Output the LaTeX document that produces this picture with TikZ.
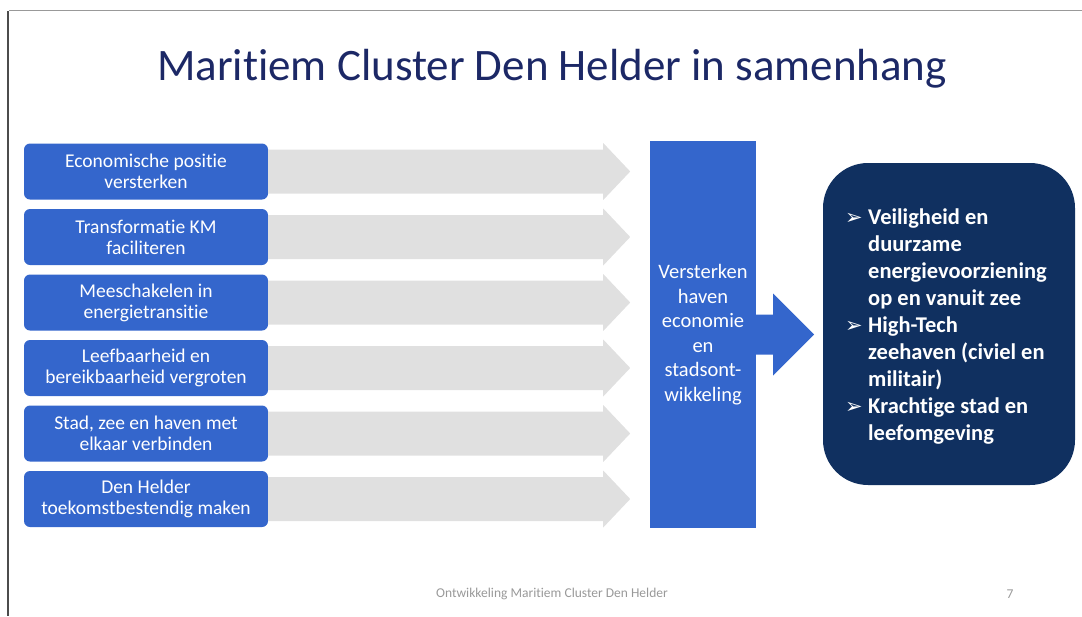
\documentclass[tikz,border=0pt]{standalone}
\usepackage{fontspec}
\setmainfont{Carlito}[Ligatures=NoCommon]
\newfontfamily\symfont{DejaVu Sans}
\definecolor{slideblue}{RGB}{52,102,204}
\definecolor{slidenavy}{RGB}{16,48,96}
\definecolor{titlenavy}{RGB}{28,40,102}
\definecolor{flowgray}{RGB}{224,224,224}
\newcommand{\resbullet}{\makebox[23pt][l]{\symfont\fontsize{21}{27}\selectfont ➢}}

\begin{document}
\begin{tikzpicture}[x=1pt, y=-1pt,
    goal/.style = {fill=slideblue, rounded corners=6pt, minimum width=244pt, minimum height=56pt,
                   text=white, align=center, inner sep=0pt, font=\fontsize{19.5}{21}\selectfont},
    hubbox/.style = {fill=slideblue, minimum width=106pt, minimum height=387pt,
                   text=white, align=center, font=\fontsize{20.5}{24.5}\selectfont},
    result/.style = {fill=slidenavy, rounded corners=45pt, minimum width=252pt, minimum height=322pt},
    flow/.style = {fill=flowgray}]
  \useasboundingbox (0,0) rectangle (1082,616);
  % slide frame
  \draw[gray!80, line width=1.5pt] (9,10.5) -- (1082,10.5);
  \draw[black!70, line width=2pt] (7.5,11) -- (7.5,616);

  \node[text=titlenavy, font=\fontsize{45}{50}\selectfont] (title) at (552,69) {Maritiem Cluster Den Helder in samenhang};

  \foreach \i/\txt in {1/{Economische positie\\versterken}, 2/{Transformatie KM\\faciliteren},
      3/{Meeschakelen in\\energietransitie}, 4/{Leefbaarheid en\\bereikbaarheid vergroten},
      5/{Stad, zee en haven met\\elkaar verbinden}, 6/{Den Helder\\toekomstbestendig maken}}
  {
    \node[goal] (g\i) at (146,{171.5+65.5*(\i-1)}) {\txt};
    \fill[flow] (g\i.east) ++(0,-22) -- ++(335,0) -- ++(0,-6.5) -- ++(27,28.5) -- ++(-27,28.5)
      -- ++(0,-6.5) -- ++(-335,0) -- cycle;
  }

  \node[hubbox] (hub) at (703,334.5) {Versterken\\haven\\economie\\en\\stadsont-\\wikkeling};
  \fill[slideblue] (hub.east) ++(0,-20) -- ++(17,0) -- ++(0,-21) -- ++(41,41) -- ++(-41,41)
    -- ++(0,-21) -- ++(-17,0) -- cycle;

  \node[result] (res) at (949,324) {};
  \node[anchor=north west, text=white, font=\fontsize{22.5}{27}\selectfont\bfseries, inner sep=0pt]
    (restext) at (845,205) {%
    \begin{tabular}{@{}l@{}l@{}}
      \resbullet & Veiligheid en\\
      & duurzame\\
      & energievoorziening\\
      & op en vanuit zee\\
      \resbullet & High-Tech\\
      & zeehaven (civiel en\\
      & militair)\\
      \resbullet & Krachtige stad en\\
      & leefomgeving
    \end{tabular}};

  \node[text=black!40, font=\fontsize{13.5}{15}\selectfont] (foot) at (552,594) {Ontwikkeling Maritiem Cluster Den Helder};
  \node[text=black!40, font=\fontsize{13.5}{15}\selectfont] (page) at (1010,594) {7};
\end{tikzpicture}
\end{document}
